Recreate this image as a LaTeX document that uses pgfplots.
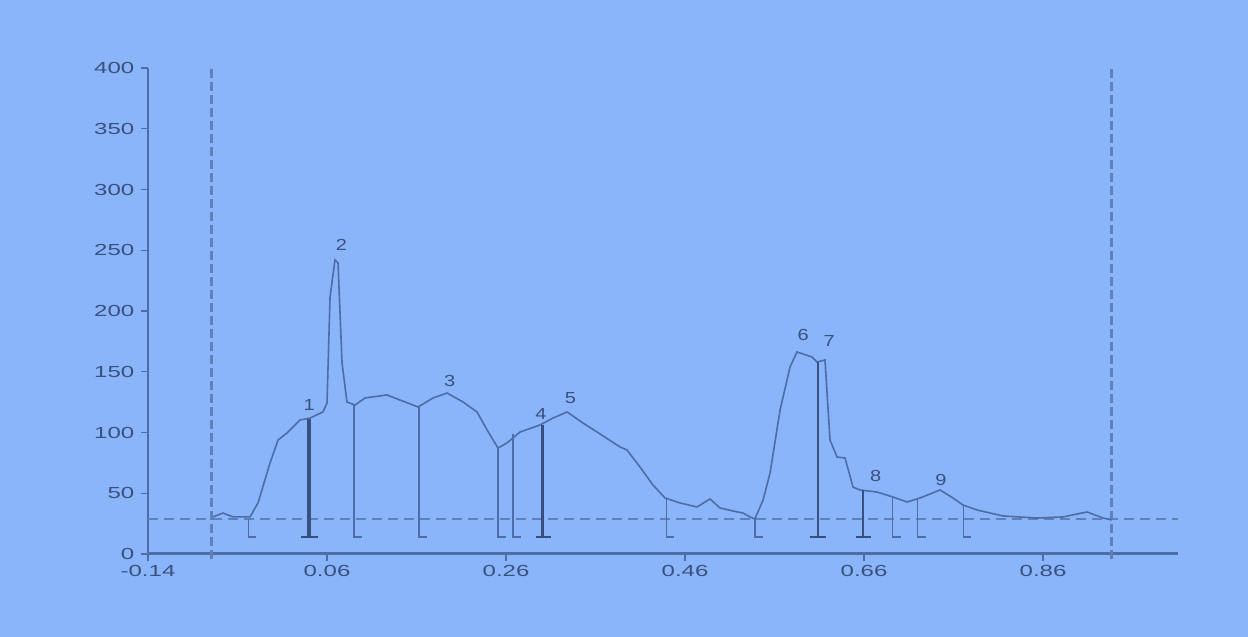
\documentclass[border=0pt]{standalone}
\usepackage{pgfplots}
\pgfplotsset{compat=1.18}
\usepackage{fontspec}
\setmainfont{Liberation Sans}
\definecolor{bgc}{RGB}{138,181,250}
\definecolor{curvec}{RGB}{78,108,165}
\definecolor{darkc}{RGB}{55,80,128}
\definecolor{txtc}{RGB}{58,80,125}
\definecolor{dashc}{RGB}{95,128,185}
\begin{document}
\begin{tikzpicture}[x=1pt,y=1pt]
\fill[bgc] (0,0) rectangle (1248,637);
\begin{axis}[
  at={(148pt,83pt)}, anchor=south west,
  scale only axis, width=1030pt, height=486pt,
  xmin=-0.14, xmax=1.0108, ymin=0, ymax=400,
  clip=false,
  axis x line=bottom, axis y line=left,
  axis line style={-, draw=curvec},
  x axis line style={line width=3pt},
  y axis line style={line width=1.6pt},
  xtick={-0.14,0.06,0.26,0.46,0.66,0.86},
  xticklabels={-0.14,0.06,0.26,0.46,0.66,0.86},
  ytick={0,50,100,150,200,250,300,350,400},
  yticklabels={0,50,100,150,200,250,300,350,400},
  tick align=outside, major tick length=7pt,
  tick style={draw=curvec, line width=1.2pt},
  tick label style={font=\fontsize{16}{16}\selectfont, text=txtc, xscale=1.5},
  xticklabel style={yshift=-1pt},
  yticklabel style={xshift=-1pt},
]
% baseline dashed
\addplot[dashc, line width=1.8pt, dash pattern=on 10pt off 6pt] coordinates {(-0.14,29) (1.0108,29)};
% vertical dashed limits
\addplot[dashc, line width=3pt, dash pattern=on 9pt off 4pt] coordinates {(-0.0685,-4) (-0.0685,400)};
\addplot[dashc, line width=3pt, dash pattern=on 9pt off 4pt] coordinates {(0.936,-4) (0.936,400)};
% signal
\addplot[curvec, line width=1.6pt] coordinates {
(-0.0674,30.5) (-0.0562,33.7) (-0.045,30.5) (-0.026,30.5) (-0.0171,42.0)
(-0.0037,74.9) (0.0053,93.8) (0.0153,99.6) (0.0298,110.3) (0.0410,111.9)
(0.0555,116.9) (0.0600,124.3) (0.0634,211.5) (0.0689,242.0) (0.0723,239.5)
(0.0768,157.2) (0.0823,125.1) (0.0913,122.6) (0.1025,128.4) (0.1270,130.9)
(0.1416,126.7) (0.1617,121.0) (0.1784,128.4) (0.1941,132.5) (0.2120,125.1)
(0.2276,116.9) (0.2388,102.1) (0.2511,87.2) (0.2611,91.4) (0.2756,100.4)
(0.2980,106.2) (0.3125,111.9) (0.3282,116.9) (0.3460,107.8) (0.3617,100.4)
(0.3874,88.1) (0.3952,85.6) (0.4097,71.6) (0.4242,56.8) (0.4377,46.1)
(0.4544,42.0) (0.4734,38.7) (0.4879,45.3) (0.4991,37.9) (0.5136,35.4)
(0.5248,33.7) (0.5326,30.5) (0.538,28.8) (0.5472,44.4) (0.555,66.7)
(0.5662,118.5) (0.5773,153.9) (0.5851,166.3) (0.6019,162.1) (0.6075,158.0)
(0.6164,159.7) (0.6220,93.8) (0.6298,79.8) (0.6388,79.0) (0.6477,55.1)
(0.6555,52.7) (0.6745,51.0) (0.6924,46.9) (0.7080,42.8) (0.7226,46.1)
(0.7449,52.7) (0.7594,46.1) (0.7706,40.3) (0.7863,36.2) (0.8153,31.3)
(0.8533,29.6) (0.8823,30.5) (0.9092,34.6) (0.9270,29.6) (0.9371,28.0)
};
% thin drop lines with feet
\addplot[curvec, line width=1.4pt] coordinates {(-0.028,29) (-0.028,14) (-0.019,14)};
\addplot[curvec, line width=1.4pt] coordinates {(0.090,123) (0.090,14) (0.099,14)};
\addplot[curvec, line width=1.4pt] coordinates {(0.163,121) (0.163,14) (0.172,14)};
\addplot[curvec, line width=1.4pt] coordinates {(0.251,87) (0.251,14) (0.260,14)};
\addplot[curvec, line width=1.4pt] coordinates {(0.268,99) (0.268,14) (0.277,14)};
\addplot[curvec, line width=1.4pt] coordinates {(0.439,45) (0.439,14) (0.448,14)};
\addplot[curvec, line width=1.4pt] coordinates {(0.538,29) (0.538,14) (0.547,14)};
\addplot[curvec, line width=1.4pt] coordinates {(0.692,47) (0.692,14) (0.701,14)};
\addplot[curvec, line width=1.4pt] coordinates {(0.720,46) (0.720,14) (0.729,14)};
\addplot[curvec, line width=1.4pt] coordinates {(0.771,40) (0.771,14) (0.780,14)};
% thick drop lines
\addplot[darkc, line width=3.5pt] coordinates {(0.040,111) (0.040,14)};
\addplot[darkc, line width=1.6pt] coordinates {(0.031,14) (0.050,14)};
\addplot[darkc, line width=2.6pt] coordinates {(0.301,106) (0.301,14)};
\addplot[darkc, line width=1.6pt] coordinates {(0.293,14) (0.310,14)};
\addplot[darkc, line width=2.2pt] coordinates {(0.609,158) (0.609,14)};
\addplot[darkc, line width=1.6pt] coordinates {(0.600,14) (0.618,14)};
\addplot[darkc, line width=2.6pt] coordinates {(0.659,53) (0.659,14)};
\addplot[darkc, line width=1.6pt] coordinates {(0.651,14) (0.668,14)};
% peak numbers
\begin{scope}[every node/.style={font=\fontsize{16}{16}\selectfont, text=txtc, xscale=1.25}]
\node at (axis cs:0.040,123) {1};
\node at (axis cs:0.076,254) {2};
\node at (axis cs:0.197,142) {3};
\node at (axis cs:0.299,115) {4};
\node at (axis cs:0.332,128) {5};
\node at (axis cs:0.592,180) {6};
\node at (axis cs:0.621,175) {7};
\node at (axis cs:0.673,64) {8};
\node at (axis cs:0.746,61) {9};
\end{scope}
\end{axis}
\end{tikzpicture}
\end{document}
